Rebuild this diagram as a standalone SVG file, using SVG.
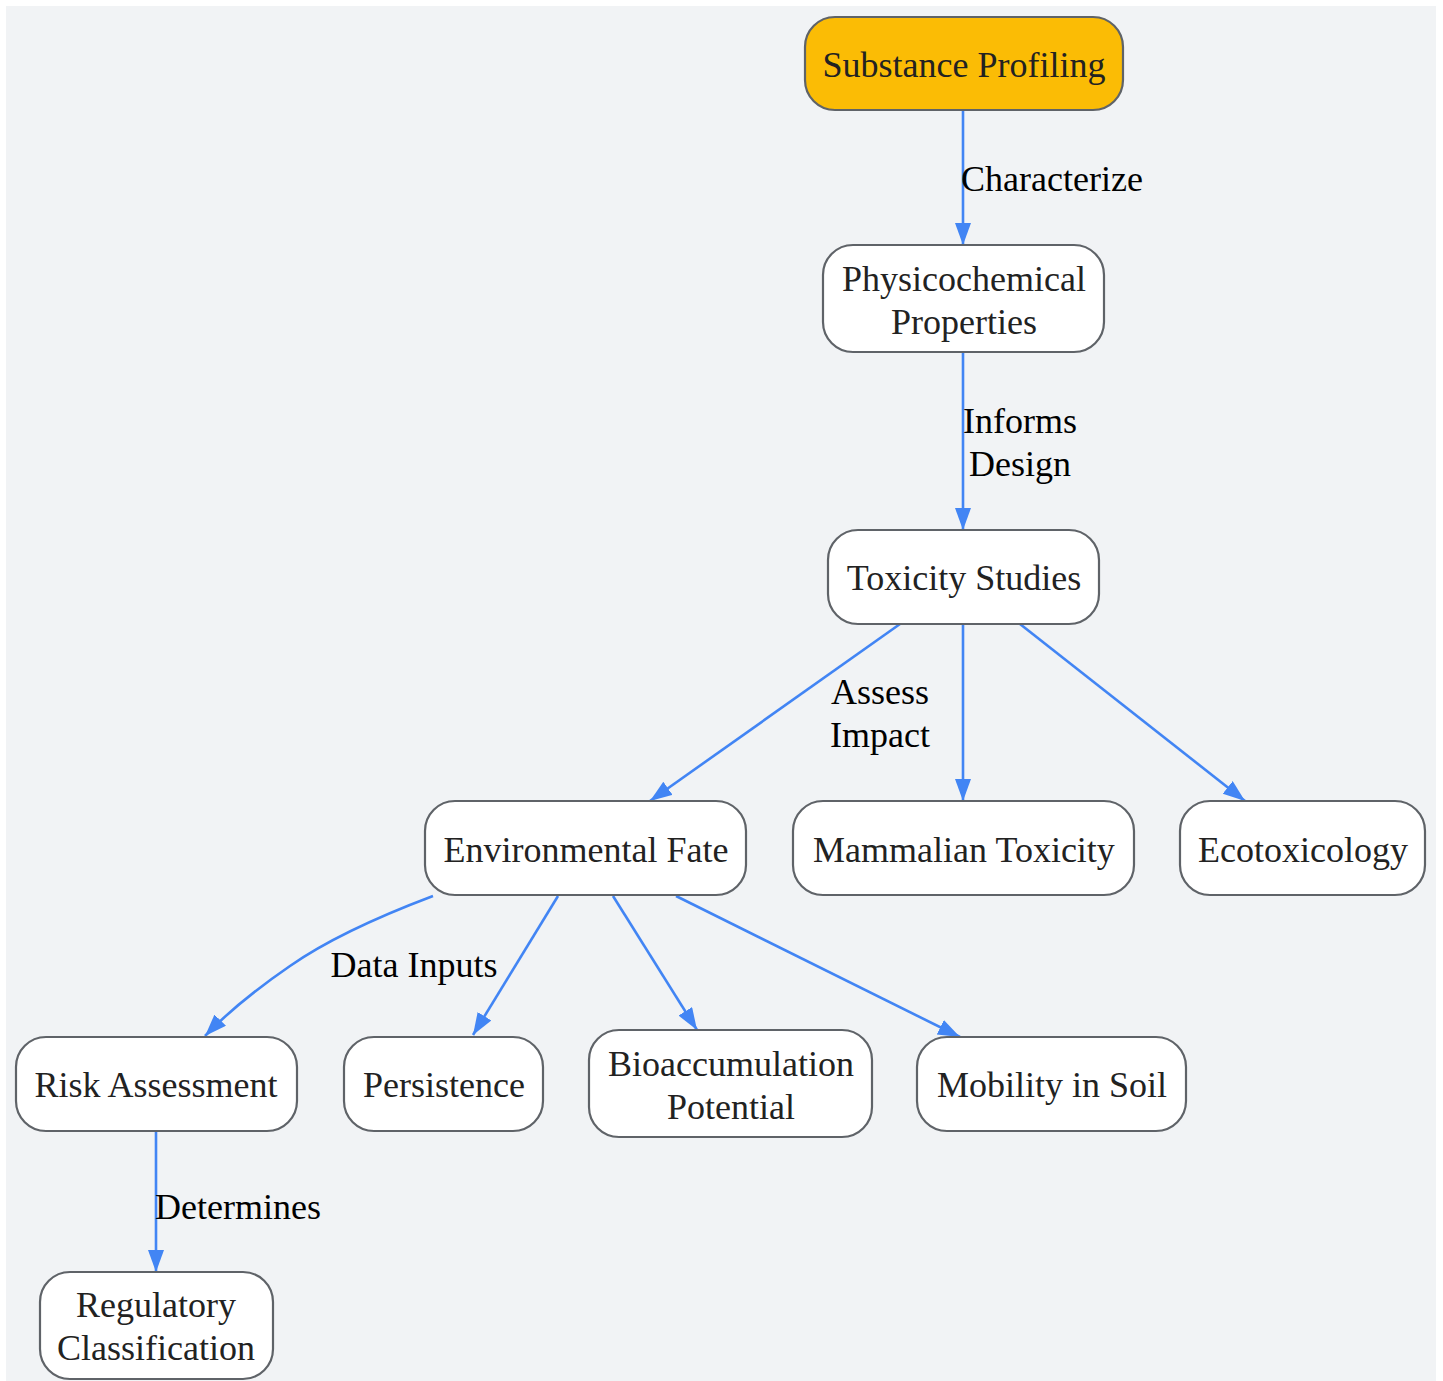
<svg xmlns="http://www.w3.org/2000/svg" width="1443" height="1381" viewBox="0 0 1443 1381">
<style>
.bg{fill:#f1f3f5}
.n rect{fill:#ffffff;stroke:#5f6368;stroke-width:2.2}
.n.root rect{fill:#fbbc05}
.n text{font-family:"Liberation Serif","Times New Roman",serif;font-size:36px;fill:#222222;text-anchor:middle}
.e path{fill:none;stroke:#4285f4;stroke-width:2.6;marker-end:url(#arr)}
.lbl{font-family:"Liberation Serif","Times New Roman",serif;font-size:36px;fill:#000000}
</style>
<defs>
<marker id="arr" markerUnits="userSpaceOnUse" markerWidth="24" markerHeight="18" refX="22" refY="8" orient="auto">
<path d="M0,0 L22,8 L0,16 z" fill="#4285f4"/>
</marker>
</defs>
<rect class="bg" x="6" y="6" width="1430" height="1375"/>
<g id="connectors" class="e">
<path d="M963,110 L963,245"/>
<path d="M963,352 L963,530"/>
<path d="M900,624 L650,801"/>
<path d="M963,624 L963,801"/>
<path d="M1020,624 L1245,801"/>
<path d="M433,896 C380,916 330,938 290,966 C255,990 230,1010 205,1036"/>
<path d="M558,896 L473,1035"/>
<path d="M613,896 L697,1030"/>
<path d="M676,896 L960,1037"/>
<path d="M156,1131 L156,1272"/>
</g>
<g id="edge-labels">
<text class="lbl" x="961" y="191">Characterize</text>
<text class="lbl" x="1020" y="433" text-anchor="middle">Informs</text>
<text class="lbl" x="1020" y="476" text-anchor="middle">Design</text>
<text class="lbl" x="880" y="704" text-anchor="middle">Assess</text>
<text class="lbl" x="880" y="747" text-anchor="middle">Impact</text>
<text class="lbl" x="414" y="977" text-anchor="middle">Data Inputs</text>
<text class="lbl" x="155" y="1219">Determines</text>
</g>
<g id="substance-profiling" class="n root">
<rect x="805" y="17" width="318" height="93" rx="30"/>
<text x="964" y="77">Substance Profiling</text>
</g>
<g id="physicochemical-properties" class="n">
<rect x="823" y="245" width="281" height="107" rx="30"/>
<text x="964" y="291">Physicochemical</text>
<text x="964" y="334">Properties</text>
</g>
<g id="toxicity-studies" class="n">
<rect x="828" y="530" width="271" height="94" rx="30"/>
<text x="964" y="590">Toxicity Studies</text>
</g>
<g id="environmental-fate" class="n">
<rect x="425" y="801" width="321" height="94" rx="30"/>
<text x="586" y="862">Environmental Fate</text>
</g>
<g id="mammalian-toxicity" class="n">
<rect x="793" y="801" width="341" height="94" rx="30"/>
<text x="964" y="862">Mammalian Toxicity</text>
</g>
<g id="ecotoxicology" class="n">
<rect x="1180" y="801" width="245" height="94" rx="30"/>
<text x="1303" y="862">Ecotoxicology</text>
</g>
<g id="risk-assessment" class="n">
<rect x="16" y="1037" width="281" height="94" rx="30"/>
<text x="156" y="1097">Risk Assessment</text>
</g>
<g id="persistence" class="n">
<rect x="344" y="1037" width="199" height="94" rx="30"/>
<text x="444" y="1097">Persistence</text>
</g>
<g id="bioaccumulation-potential" class="n">
<rect x="589" y="1030" width="283" height="107" rx="30"/>
<text x="731" y="1076">Bioaccumulation</text>
<text x="731" y="1119">Potential</text>
</g>
<g id="mobility-in-soil" class="n">
<rect x="917" y="1037" width="269" height="94" rx="30"/>
<text x="1052" y="1097">Mobility in Soil</text>
</g>
<g id="regulatory-classification" class="n">
<rect x="40" y="1272" width="233" height="107" rx="30"/>
<text x="156" y="1317">Regulatory</text>
<text x="156" y="1360">Classification</text>
</g>
</svg>
